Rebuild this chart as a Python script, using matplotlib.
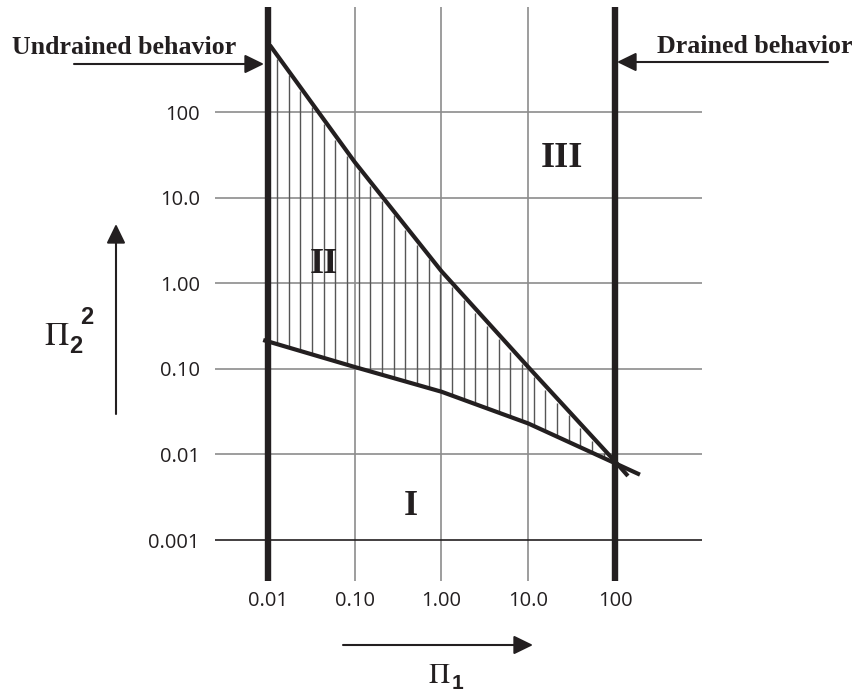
import matplotlib
matplotlib.use('Agg')
import matplotlib.pyplot as plt
import numpy as np

plt.rcParams['mathtext.fontset'] = 'stix'

# tick values and labels of both log axes
x_ticks = [0.01, 0.1, 1.0, 10.0, 100.0]
x_labels = ['0.01', '0.10', '1.00', '10.0', '100']
y_ticks = [100.0, 10.0, 1.0, 0.1, 0.01, 0.001]
y_labels = ['100', '10.0', '1.00', '0.10', '0.01', '0.001']

# upper boundary (steep line) and lower boundary (flat curve)
upper_x = [0.0105, 0.1, 1.0, 10.0, 100.0, 141.0]
upper_y = [605.0, 26.0, 1.38, 0.105, 0.0083, 0.0056]
lower_x = [0.0088, 0.1, 1.0, 10.0, 100.0, 194.0]
lower_y = [0.217, 0.105, 0.054, 0.023, 0.0079, 0.0058]

# limits of the drained/undrained behaviour
undrained_x = 0.01
drained_x = 100.0

W, H = 855, 693
ink = '#231f20'
grid_c = '#8c8c8c'


def fxy(px, py):
    # pixel position -> figure fraction
    return px / W, 1 - py / H


fig = plt.figure(figsize=(W / 100, H / 100), dpi=100)
ax = fig.add_axes([215 / W, 1 - 581 / H, (702 - 215) / W, (581 - 7) / H])
ax.set_xscale('log')
ax.set_yscale('log')
ax.set_xlim(2.449e-3, 1007)
ax.set_ylim(3.32e-4, 1687)

# grid
for xv in x_ticks:
    if xv not in (undrained_x, drained_x):
        ax.axvline(xv, color=grid_c, lw=1.2, zorder=1)
for yv in y_ticks:
    ax.axhline(yv, color=ink if yv == 0.001 else grid_c, lw=1.2, zorder=1)

# thick boundary lines
ax.axvline(undrained_x, color=ink, lw=4.6, zorder=3)
ax.axvline(drained_x, color=ink, lw=4.6, zorder=3)

# vertical hatching of region II
hx = np.logspace(np.log10(0.0127), np.log10(74), 29)
lux, luy = np.log10(upper_x), np.log10(upper_y)
llx, lly = np.log10(lower_x), np.log10(lower_y)
h_top = 10 ** (np.interp(np.log10(hx), lux, luy) - 0.05)
h_bot = 10 ** np.interp(np.log10(hx), llx, lly)
keep = h_top > h_bot
ax.vlines(hx[keep], h_bot[keep], h_top[keep], color='#555555', lw=1.0, zorder=2)

ax.plot(upper_x, upper_y, color=ink, lw=3.0, solid_capstyle='butt', zorder=4)
ax.plot(lower_x, lower_y, color=ink, lw=3.0, solid_capstyle='butt', zorder=4)

ax.set_xticks(x_ticks, x_labels)
ax.set_yticks(y_ticks, y_labels)
ax.minorticks_off()
ax.tick_params(length=0, labelsize=14.5, labelcolor=ink)
ax.tick_params(axis='x', pad=7)
ax.tick_params(axis='y', pad=11)
for lab in ax.get_xticklabels() + ax.get_yticklabels():
    lab.set_family('Open Sans')
for s in ax.spines.values():
    s.set_visible(False)

# region labels
for txt, (px, py) in [('I', (411, 515)), ('II', (324, 273)), ('III', (562, 167))]:
    fig.text(*fxy(px, py), txt, family='Liberation Serif', weight='bold',
             fontsize=26, ha='center', va='baseline', color=ink)

# behaviour annotations
fig.text(*fxy(12, 54), 'Undrained behavior', family='Liberation Serif',
         weight='bold', fontsize=18.6, ha='left', va='baseline', color=ink)
fig.text(*fxy(852, 53), 'Drained behavior', family='Liberation Serif',
         weight='bold', fontsize=18.6, ha='right', va='baseline', color=ink)

arrow = dict(arrowstyle='-|>,head_length=0.45,head_width=0.22', lw=1.5,
             color=ink, mutation_scale=26, shrinkA=0, shrinkB=0)
ax.annotate('', xy=fxy(264, 64), xytext=fxy(74, 64), xycoords='figure fraction',
            arrowprops=arrow)
ax.annotate('', xy=fxy(617, 62), xytext=fxy(828, 62), xycoords='figure fraction',
            arrowprops=arrow)
ax.annotate('', xy=fxy(533, 645), xytext=fxy(343, 645), xycoords='figure fraction',
            arrowprops=arrow)
ax.annotate('', xy=fxy(116, 224), xytext=fxy(116, 414), xycoords='figure fraction',
            arrowprops=arrow)

# axis labels
fig.text(*fxy(428, 683), r'$\Pi$', fontsize=21, ha='left', va='baseline', color=ink)
fig.text(*fxy(452, 689), '1', family='Liberation Sans', weight='bold',
         fontsize=15, ha='left', va='baseline', color=ink)
fig.text(*fxy(44, 345), r'$\Pi$', fontsize=24, ha='left', va='baseline', color=ink)
fig.text(*fxy(69, 353), '2', family='Liberation Sans', weight='bold',
         fontsize=17, ha='left', va='baseline', color=ink)
fig.text(*fxy(80, 324), '2', family='Liberation Sans', weight='bold',
         fontsize=17, ha='left', va='baseline', color=ink)

fig.savefig('out.png', dpi=100)
